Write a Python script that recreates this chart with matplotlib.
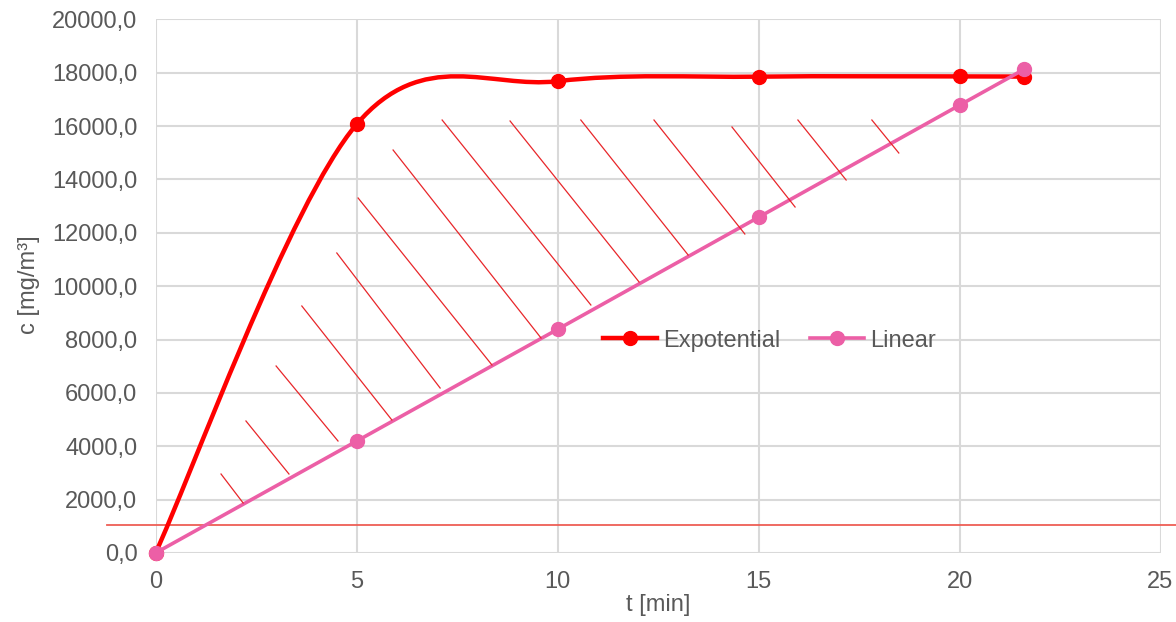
import numpy as np
import matplotlib
matplotlib.use("Agg")
import matplotlib.pyplot as plt
from matplotlib.path import Path
from matplotlib.patches import PathPatch
from matplotlib.lines import Line2D

plt.rcParams['font.family'] = ['Liberation Sans', 'DejaVu Sans']

# --- data -------------------------------------------------------------
t_exp = [0, 5, 10, 15, 20, 21.6]
c_exp = [0, 16060, 17680, 17850, 17860, 17850]

t_lin = [0, 5, 10, 15, 20, 21.6]
c_lin = [0, 4190, 8380, 12580, 16780, 18120]

# hand-drawn shading strokes between the two curves (start -> end)
hatch_t0 = [1.63, 2.25, 3.00, 3.64, 4.51, 5.04, 5.91, 7.13, 8.82, 10.58, 12.40, 14.34, 15.98, 17.82]
hatch_c0 = [2960, 4947, 7008, 9256, 11243, 13303, 15102, 16226, 16189, 16226, 16226, 15964, 16226, 16226]
hatch_t1 = [2.18, 3.32, 4.54, 5.88, 7.08, 8.37, 9.59, 10.83, 12.03, 13.25, 14.66, 15.91, 17.18, 18.49]
hatch_c1 = [1874, 2960, 4197, 4984, 6183, 7045, 8057, 9294, 10155, 11167, 11954, 12966, 13978, 14990]

limit_level = 1050

x_ticks = [0, 5, 10, 15, 20, 25]
y_ticks = list(range(0, 20001, 2000))

RED = '#ff0000'
PINK = '#ec5fa6'
TEXT = '#595959'
GRID = '#d9d9d9'

# --- figure -----------------------------------------------------------
W, H = 1176, 622
fig = plt.figure(figsize=(W / 100, H / 100), dpi=100)
ax = fig.add_axes([155.5 / W, 69 / H, 1005 / W, 533.7 / H])
ax.set_xlim(0, 25)
ax.set_ylim(0, 20000)

for s in ax.spines.values():
    s.set_visible(False)
ax.set_xticks(x_ticks)
ax.set_yticks(y_ticks)
ax.set_xticklabels([str(v) for v in x_ticks])
ax.set_yticklabels([f"{v},0" for v in y_ticks])
ax.tick_params(length=0, labelsize=17, labelcolor=TEXT, pad=13)
ax.grid(True, color=GRID, linewidth=1.5)
ax.set_axisbelow(True)

fig.canvas.draw()


def smooth_path(xs, ys):
    """Catmull-Rom style Bezier through the points, built in display space."""
    pts = ax.transData.transform(np.column_stack([xs, ys]))
    n = len(pts)
    verts = [pts[0]]
    codes = [Path.MOVETO]
    for i in range(n - 1):
        p0 = pts[i - 1] if i > 0 else pts[i]
        p1 = pts[i]
        p2 = pts[i + 1]
        p3 = pts[i + 2] if i + 2 < n else pts[i + 1]
        c1 = p1 + (p2 - p0) / 6.0
        c2 = p2 - (p3 - p1) / 6.0
        verts += [c1, c2, p2]
        codes += [Path.CURVE4] * 3
    verts = ax.transData.inverted().transform(np.array(verts))
    return Path(verts, codes)


# limit level line running past the plot edges
ax.plot([-1.2, 26.5], [limit_level, limit_level], color='#ee5e55',
        linewidth=1.3, clip_on=False, zorder=2)

# exponential series (smoothed)
ax.add_patch(PathPatch(smooth_path(t_exp, c_exp), facecolor='none',
                       edgecolor=RED, linewidth=3.2, zorder=3,
                       capstyle='round'))
ax.plot(t_exp, c_exp, linestyle='none', marker='o', markersize=10,
        color=RED, zorder=4, clip_on=False)

# linear series
ax.plot(t_lin, c_lin, color=PINK, linewidth=2.6, marker='o', markersize=10,
        zorder=5, clip_on=False)

# shading strokes
for x0, y0, x1, y1 in zip(hatch_t0, hatch_c0, hatch_t1, hatch_c1):
    ax.plot([x0, x1], [y0, y1], color='#e8262a', linewidth=0.9, zorder=6)

handles = [
    Line2D([], [], color=RED, linewidth=3.2, marker='o', markersize=10),
    Line2D([], [], color=PINK, linewidth=2.6, marker='o', markersize=10),
]
leg = ax.legend(handles, ['Expotential', 'Linear'], ncol=2, frameon=False,
                loc='center', bbox_to_anchor=(0.611, 0.398), fontsize=17,
                handlelength=2.3, handletextpad=0.25, columnspacing=1.25)
for txt in leg.get_texts():
    txt.set_color(TEXT)

ax.set_xlabel('t [min]', fontsize=17, color=TEXT)
ax.set_ylabel('c [mg/m³]', fontsize=17, color=TEXT)
ax.xaxis.set_label_coords(0.5, -0.076)
ax.yaxis.set_label_coords(-0.1154, 0.502)

fig.savefig('out.png', dpi=100)
